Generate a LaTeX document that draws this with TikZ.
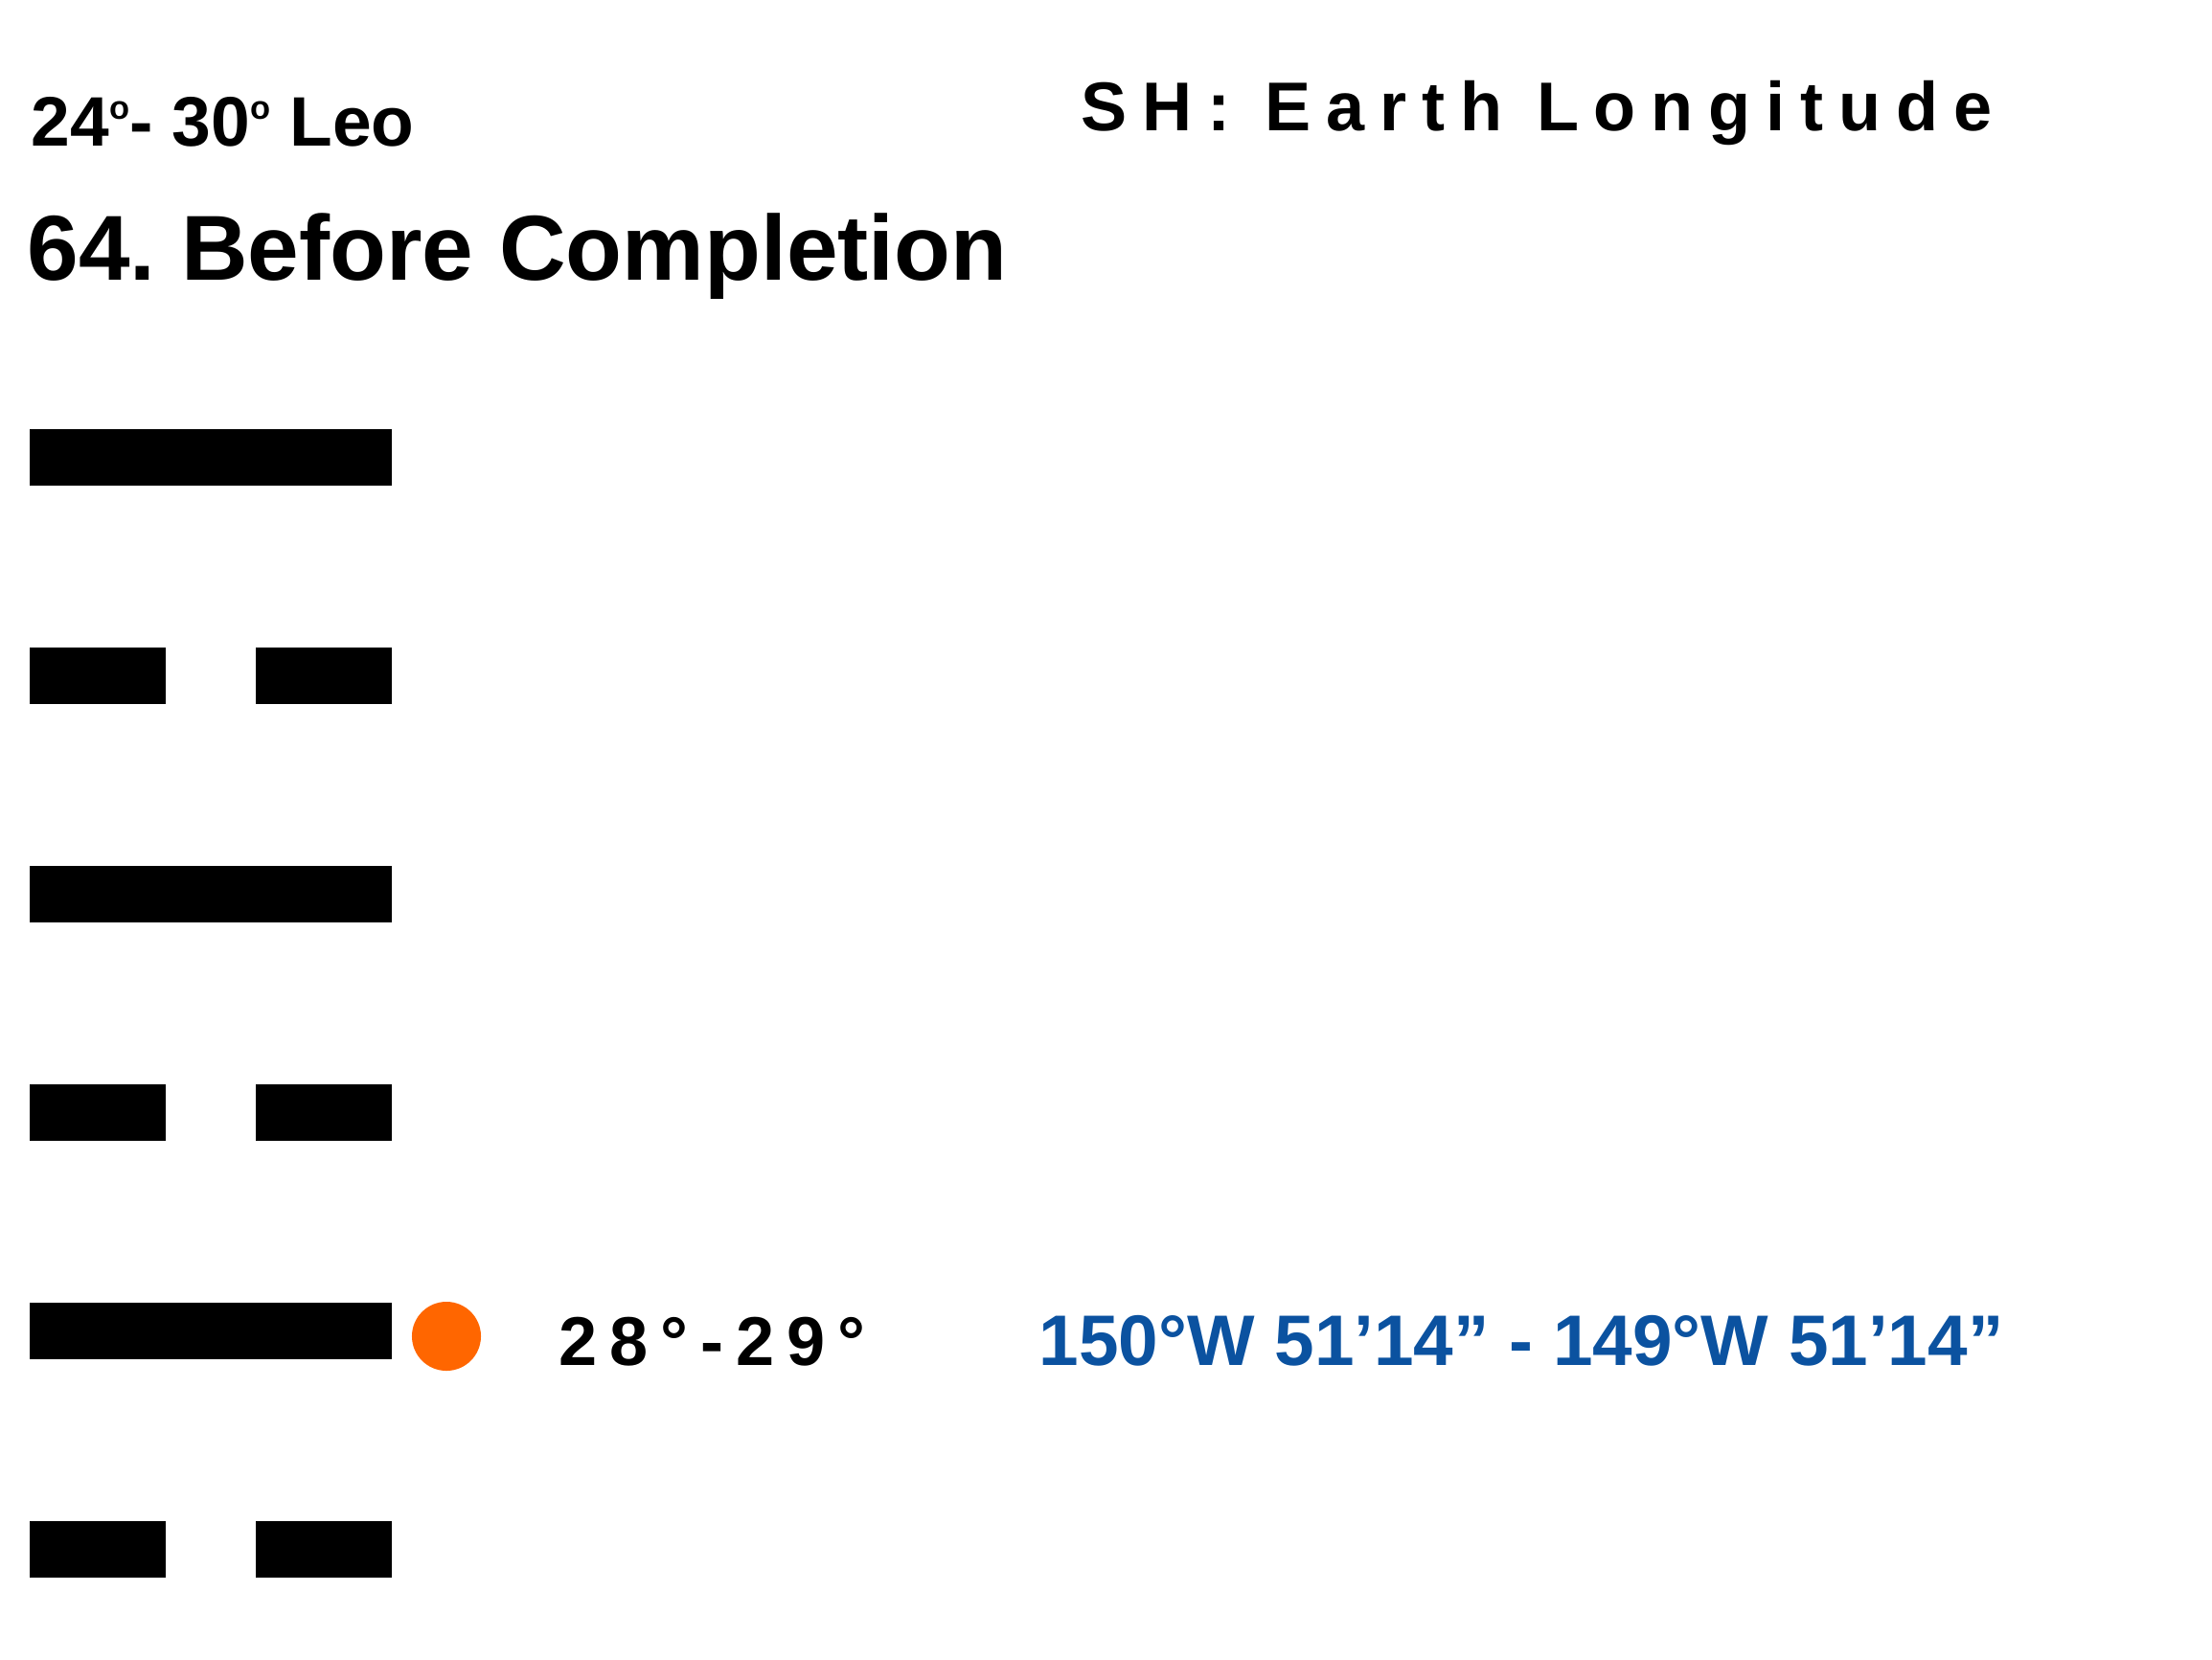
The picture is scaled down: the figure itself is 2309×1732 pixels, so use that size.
\documentclass[tikz,border=0pt]{standalone}
\usepackage{fontspec}
\setmainfont{Liberation Sans}
\newfontfamily\spaced[LetterSpace=22]{Liberation Sans}
\newfontfamily\spacedlow[LetterSpace=18]{Liberation Sans}
\definecolor{geoblue}{RGB}{11,82,160}
\definecolor{dotorange}{RGB}{255,102,0}
\newcommand{\degsup}{\raisebox{0.27cm}{\fontsize{9.8}{10}\selectfont o}}
\frenchspacing
\begin{document}
\begin{tikzpicture}[x=0.01cm, y=-0.01cm,
  every node/.style={inner sep=0pt, anchor=base west},
  yang/.style={fill=black, minimum width=3.78cm, minimum height=0.59cm, anchor=north west},
  yin/.style={fill=black, minimum width=1.42cm, minimum height=0.59cm, anchor=north west}]
  \useasboundingbox (0,0) rectangle (2309,1732);
  \node[font=\bfseries\fontsize{20.8}{24}\selectfont] (range) at (32,152) {24\degsup- 30\degsup\ Leo};
  \node[font=\bfseries\spaced\fontsize{20.5}{24}\selectfont] (header) at (1128,136) {SH: Earth Longitude};
  \node[font=\bfseries\fontsize{27.4}{32}\selectfont] (title) at (28,292) {64. Before Completion};
  % hexagram lines, top to bottom
  \foreach \i in {1,3,5} \node[yang] (line\i) at (30,{447+228*(\i-1)}) {};
  \foreach \i in {2,4,6} {
    \node[yin] (line\i a) at (30,{447+228*(\i-1)}) {};
    \node[yin] (line\i b) at (266,{447+228*(\i-1)}) {};
  }
  \node[circle, fill=dotorange, minimum size=0.72cm, anchor=center] (dot) at (466,1395) {};
  \node[font=\bfseries\spacedlow\fontsize{20.5}{24}\selectfont] (degrees) at (583,1425) {28°-29°};
  \node[font=\bfseries\fontsize{21.25}{24}\selectfont, text=geoblue] (longitude) at (1084,1425) {150°W 51’14” - 149°W 51’14”};
\end{tikzpicture}
\end{document}
